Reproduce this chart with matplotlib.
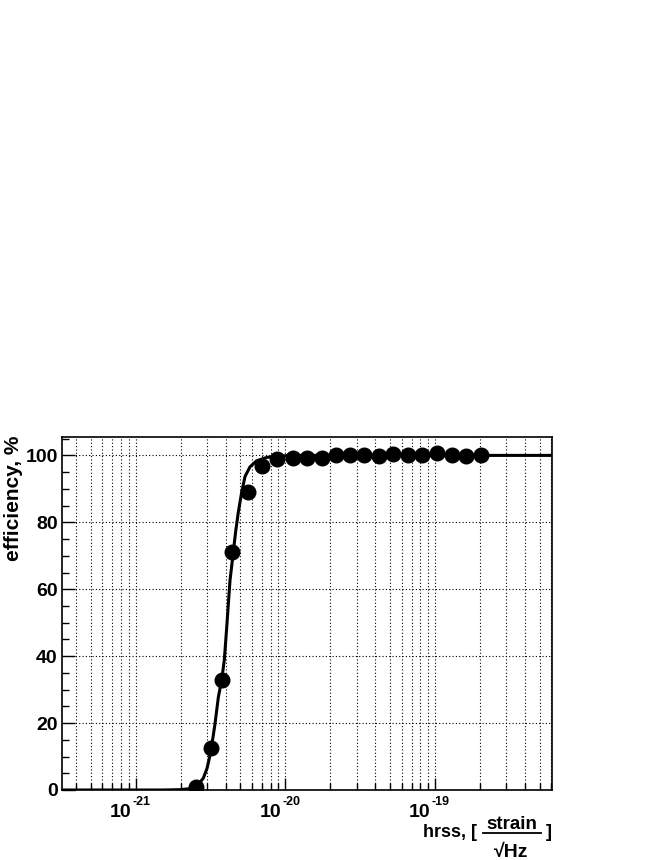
import matplotlib
matplotlib.use('Agg')
import matplotlib.pyplot as plt
import matplotlib.ticker as ticker
from matplotlib.lines import Line2D

plt.rcParams['font.family'] = ['Liberation Sans', 'DejaVu Sans']
plt.rcParams['font.weight'] = 'bold'

# measured efficiency points
hrss = [2.53e-21, 3.18e-21, 3.76e-21, 4.43e-21, 5.66e-21, 6.96e-21, 8.76e-21,
        1.13e-20, 1.39e-20, 1.75e-20, 2.18e-20, 2.70e-20, 3.36e-20, 4.21e-20,
        5.26e-20, 6.60e-20, 8.19e-20, 1.03e-19, 1.29e-19, 1.61e-19, 2.02e-19]
eff = [0.8, 12.5, 33.0, 71.1, 89.2, 96.9, 98.9, 99.1, 99.2, 99.1,
       100.0, 100.0, 100.0, 99.8, 100.3, 100.0, 100.0, 100.6, 100.2, 99.7, 100.0]

# fitted curve
fit_x = [3.22e-22, 1.5e-21, 1.98e-21, 2.3e-21, 2.53e-21, 2.83e-21, 3.0e-21,
         3.18e-21, 3.39e-21, 3.57e-21, 3.76e-21, 3.91e-21, 4.06e-21, 4.27e-21,
         4.45e-21, 4.65e-21, 4.85e-21, 5.11e-21, 5.38e-21, 5.81e-21, 6.44e-21,
         7.51e-21, 8.76e-21, 1.2e-20, 6.05e-19]
fit_y = [0, 0, 0.1, 0.4, 0.9, 3.5, 6.5, 11.5, 19.8, 27.8, 33.0, 38.8, 48.7,
         62.7, 69.5, 77.0, 83.0, 89.0, 93.7, 96.6, 98.4, 99.4, 99.8, 100, 100]

decades = [1e-21, 1e-20, 1e-19]
exponents = ['-21', '-20', '-19']

W, H = 664, 860
fig = plt.figure(figsize=(6.64, 8.6), dpi=100)
ax = fig.add_axes([62/W, 1-790/H, 490/W, 353/H])

ax.plot(fit_x, fit_y, color='black', lw=2.2, zorder=3)
ax.plot(hrss, eff, 'o', color='black', ms=10.5, zorder=4)

ax.set_xscale('log')
ax.set_xlim(3.22e-22, 6.05e-19)
ax.set_ylim(0, 105.5)

ax.xaxis.set_major_locator(ticker.FixedLocator(decades))
ax.xaxis.set_major_formatter(ticker.NullFormatter())
ax.xaxis.set_minor_locator(ticker.LogLocator(base=10, subs=range(2, 10), numticks=20))
ax.xaxis.set_minor_formatter(ticker.NullFormatter())
ax.yaxis.set_major_locator(ticker.MultipleLocator(20))
ax.yaxis.set_minor_locator(ticker.MultipleLocator(5))

ax.tick_params(which='both', direction='in', top=False, right=False, width=1)
ax.tick_params(which='major', length=9)
ax.tick_params(which='minor', length=5)
ax.tick_params(axis='y', which='major', pad=3, labelsize=14)

ax.grid(True, axis='x', which='both', color='black', ls=(0, (1, 2)), lw=0.8)
ax.grid(True, axis='y', which='major', color='black', ls=(0, (1, 2)), lw=0.8)
ax.set_axisbelow(True)
for s in ax.spines.values():
    s.set_linewidth(1.2)

# ROOT style decade labels: "10" with a raised exponent
for d, e in zip(decades, exponents):
    ax.annotate('10', xy=(d, 0), xycoords=('data', 'axes fraction'),
                xytext=(-3.2, -19.2), textcoords='offset points',
                ha='right', va='baseline', fontsize=14, fontweight='bold')
    ax.annotate(e, xy=(d, 0), xycoords=('data', 'axes fraction'),
                xytext=(-2.2, -10.8), textcoords='offset points',
                ha='left', va='baseline', fontsize=9, fontweight='bold')

fig.text(14/W, 1-436/H, 'efficiency, %', rotation=90, ha='center', va='top',
         fontsize=15, fontweight='bold')

# x title: hrss, [ strain / sqrt(Hz) ]
fig.text(477/W, 1-837/H, 'hrss, [', ha='right', va='baseline',
         fontsize=13, fontweight='bold')
fig.text(552/W, 1-837/H, ']', ha='right', va='baseline',
         fontsize=13, fontweight='bold')
fig.text(511.5/W, 1-829/H, 'strain', ha='center', va='baseline',
         fontsize=13.5, fontweight='bold')
fig.add_artist(Line2D([483/W, 541/W], [1-832.5/H, 1-832.5/H],
                      transform=fig.transFigure, color='black', lw=1.3))
fig.text(511.5/W, 1-857/H, '\u221aHz', ha='center', va='baseline',
         fontsize=14, fontweight='bold')

fig.savefig('out.png', dpi=100)
